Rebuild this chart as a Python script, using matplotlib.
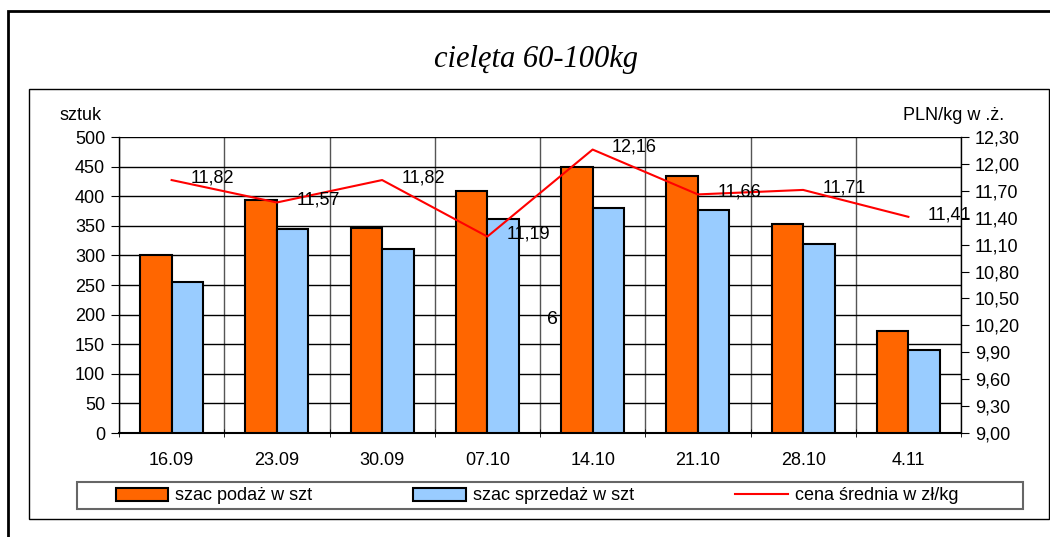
import matplotlib.pyplot as plt
import matplotlib.patches as mpatches
import matplotlib.lines as mlines
import numpy as np

plt.rcParams['font.family'] = ['Liberation Sans', 'DejaVu Sans']

dates = ['16.09', '23.09', '30.09', '07.10', '14.10', '21.10', '28.10', '4.11']
podaz = [301, 394, 347, 408, 449, 434, 353, 172]
sprzedaz = [255, 344, 310, 362, 380, 377, 319, 140]
cena = [11.82, 11.57, 11.82, 11.19, 12.16, 11.66, 11.71, 11.41]

W, H = 1050, 537
FS = 13
fig = plt.figure(figsize=(10.5, 5.37), dpi=100)

# outer frame and inner panel
fig.add_artist(mpatches.Rectangle((8 / W, -0.05), 1.1, 1 - 11 / H + 0.05,
                                  transform=fig.transFigure, fill=False,
                                  edgecolor='black', linewidth=2))
fig.add_artist(mpatches.Rectangle((29 / W, 1 - 519 / H), (1049 - 29) / W, (519 - 89) / H,
                                  transform=fig.transFigure, fill=False,
                                  edgecolor='black', linewidth=1))
# legend box
fig.add_artist(mpatches.Rectangle((77 / W, 1 - 509 / H), (1023 - 77) / W, (509 - 482) / H,
                                  transform=fig.transFigure, fill=False,
                                  edgecolor='#666666', linewidth=1.5))

fig.text(536 / W, 1 - 60 / H, 'cielęta 60-100kg', family='Liberation Serif',
         style='italic', fontsize=22, ha='center', va='center')

ax = fig.add_axes([119 / W, 1 - 433 / H, (961 - 119) / W, (433 - 137) / H])
x = np.arange(len(dates))
bw = 0.3
ax.bar(x - bw / 2, podaz, bw, color='#ff6600', edgecolor='black', linewidth=1.5, zorder=3)
ax.bar(x + bw / 2, sprzedaz, bw, color='#99ccff', edgecolor='black', linewidth=1.5, zorder=3)

ax.set_xlim(-0.5, len(dates) - 0.5)
ax.set_ylim(0, 500)
ax.set_yticks(np.arange(0, 501, 50))
ax.set_yticklabels([str(v) for v in range(0, 501, 50)], fontsize=FS)
ax.set_xticks(x)
ax.set_xticklabels(dates, fontsize=FS)
ax.tick_params(axis='x', length=0, pad=14)
ax.tick_params(axis='y', direction='out', length=6, pad=4)
ax.set_xticks(np.arange(-0.5, len(dates), 1), minor=True)
ax.tick_params(axis='x', which='minor', length=6, direction='inout')
ax.grid(axis='y', color='black', linewidth=1, zorder=0)
ax.grid(axis='x', which='minor', color='#555555', linewidth=1, zorder=0)
for s in ['top', 'right']:
    ax.spines[s].set_visible(False)
ax.spines['left'].set_linewidth(1)
ax.spines['bottom'].set_linewidth(1.5)
ax.set_axisbelow(True)

ax2 = ax.twinx()
ax2.plot(x, cena, color='red', linewidth=1.5, zorder=5)
ax2.set_ylim(9.0, 12.3)
rt = np.round(np.arange(9.0, 12.31, 0.3), 2)
ax2.set_yticks(rt)
ax2.set_yticklabels([f'{v:.2f}'.replace('.', ',') for v in rt], fontsize=FS)
ax2.tick_params(axis='y', direction='out', length=6, pad=4)
for s in ['top', 'left', 'bottom']:
    ax2.spines[s].set_visible(False)
ax2.spines['right'].set_linewidth(1)
for xi, c in zip(x, cena):
    ax2.annotate(f'{c:.2f}'.replace('.', ','), (xi, c), xytext=(14, 1.5),
                 textcoords='offset points', fontsize=FS, ha='left', va='center', zorder=6)

fig.text(552 / W, 1 - 320 / H, '6', fontsize=14, ha='center', va='center')
fig.text(59 / W, 1 - 116 / H, 'sztuk', fontsize=FS, ha='left', va='center')
fig.text(1004 / W, 1 - 116 / H, 'PLN/kg w .ż.', fontsize=FS, ha='right', va='center')

handles = [mpatches.Patch(facecolor='#ff6600', edgecolor='black', linewidth=1.5),
           mpatches.Patch(facecolor='#99ccff', edgecolor='black', linewidth=1.5),
           mlines.Line2D([], [], color='red', linewidth=1.5)]
labels = ['szac podaż w szt', 'szac sprzedaż w szt', 'cena średnia w zł/kg']
leg = fig.legend(handles, labels, loc='center', ncol=3,
                 bbox_to_anchor=(537 / W, 1 - 496 / H),
                 fontsize=FS, frameon=False, borderaxespad=0,
                 handlelength=2.9, handleheight=0.75, handletextpad=0.4,
                 borderpad=0.2, columnspacing=5.6)

fig.savefig('out.png', dpi=100)
